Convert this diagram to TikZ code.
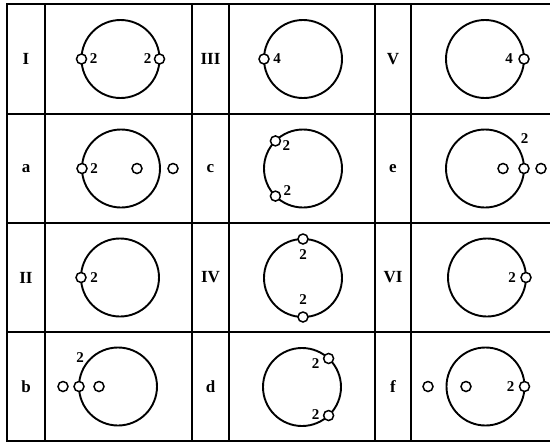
\documentclass[tikz,border=0pt]{standalone}
\usepackage{fontspec}
\setmainfont{Liberation Serif}
\tikzset{
  bigc/.style={circle, draw, line width=1.9pt, minimum size=78pt, inner sep=0pt, outer sep=0pt},
  smc/.style={circle, draw, fill=white, line width=1.5pt, minimum size=10pt, inner sep=0pt},
  num/.style={font=\fontsize{15}{15}\selectfont\bfseries, inner sep=0pt},
  lab/.style={font=\fontsize{17}{17}\selectfont\bfseries, inner sep=0pt},
  grid/.style={line width=1.4pt}
}
\begin{document}
\begin{tikzpicture}[x=1pt,y=-1pt]
\useasboundingbox (0,0) rectangle (550,442);
% grid
\draw[grid] (7,4) rectangle (553,441);
\foreach \gx in {45,192,229,375,411} \draw[grid] (\gx,4) -- (\gx,441);
\foreach \gy in {114,223,332} \draw[grid] (7,\gy) -- (553,\gy);
% labels
\node[lab] (lI)   at (26,59)    {I};
\node[lab] (lIII) at (210.5,59) {III};
\node[lab] (lV)   at (393,59)   {V};
\node[lab] (la)   at (26,168.5)    {a};
\node[lab] (lc)   at (210.5,168.5) {c};
\node[lab] (le)   at (393,168.5)   {e};
\node[lab] (lII)  at (26,277.5)    {II};
\node[lab] (lIV)  at (210.5,277.5) {IV};
\node[lab] (lVI)  at (393,277.5)   {VI};
\node[lab] (lb)   at (26,386.5)    {b};
\node[lab] (ld)   at (210.5,386.5) {d};
\node[lab] (lf)   at (393,386.5)   {f};
% row 1
\node[bigc] (cI) at (120.5,59) {};
\node[smc] (sI1) at (cI.180) {};
\node[smc] (sI2) at (cI.0) {};
\node[num] at ([xshift=12pt]sI1.center) {2};
\node[num] at ([xshift=-12pt]sI2.center) {2};
\node[bigc] (cIII) at (303,59) {};
\node[smc] (sIII) at (cIII.180) {};
\node[num] at ([xshift=13pt]sIII.center) {4};
\node[bigc] (cV) at (485,59) {};
\node[smc] (sV) at (cV.0) {};
\node[num] at ([xshift=-15pt]sV.center) {4};
% row 2
\node[bigc] (ca) at (121,168.5) {};
\node[smc] (sa1) at (ca.180) {};
\node[num] at ([xshift=12pt]sa1.center) {2};
\node[smc] (sa2) at (137,168.5) {};
\node[smc] (sa3) at (173,168.5) {};
\node[bigc] (cc) at (303,168.5) {};
\node[smc] (sc1) at (cc.135) {};
\node[smc] (sc2) at (cc.225) {};
\node[num] at ([xshift=11pt,yshift=-5pt]sc1.center) {2};
\node[num] at ([xshift=12pt,yshift=6pt]sc2.center) {2};
\node[bigc] (ce) at (485,168.5) {};
\node[smc] (se1) at (ce.0) {};
\node[smc] (se2) at (503,168.5) {};
\node[smc] (se3) at (541,168.5) {};
\node[num] at (524.5,139) {2};
% row 3
\node[bigc] (cII) at (120,277.5) {};
\node[smc] (sII) at (cII.180) {};
\node[num] at ([xshift=13pt]sII.center) {2};
\node[bigc] (cIV) at (303,278) {};
\node[smc] (sIV1) at (cIV.90) {};
\node[smc] (sIV2) at (cIV.270) {};
\node[num] at ([yshift=-16pt]sIV1.center) {2};
\node[num] at ([yshift=17pt]sIV2.center) {2};
\node[bigc] (cVI) at (487,277.5) {};
\node[smc] (sVI) at (cVI.0) {};
\node[num] at ([xshift=-14pt]sVI.center) {2};
% row 4
\node[bigc] (cb) at (118,386.5) {};
\node[smc] (sb1) at (cb.180) {};
\node[smc] (sb2) at (63,386.5) {};
\node[smc] (sb3) at (99,386.5) {};
\node[num] at (80,358) {2};
\node[bigc] (cd) at (302,387) {};
\node[smc] (sd1) at (cd.47) {};
\node[smc] (sd2) at (cd.-47) {};
\node[num] at ([xshift=-13pt,yshift=-5pt]sd1.center) {2};
\node[num] at ([xshift=-13pt,yshift=1pt]sd2.center) {2};
\node[bigc] (cf) at (485.5,386.5) {};
\node[smc] (sf1) at (cf.0) {};
\node[smc] (sf2) at (428,386.5) {};
\node[smc] (sf3) at (466,386.5) {};
\node[num] at ([xshift=-14pt]sf1.center) {2};
\end{tikzpicture}
\end{document}
